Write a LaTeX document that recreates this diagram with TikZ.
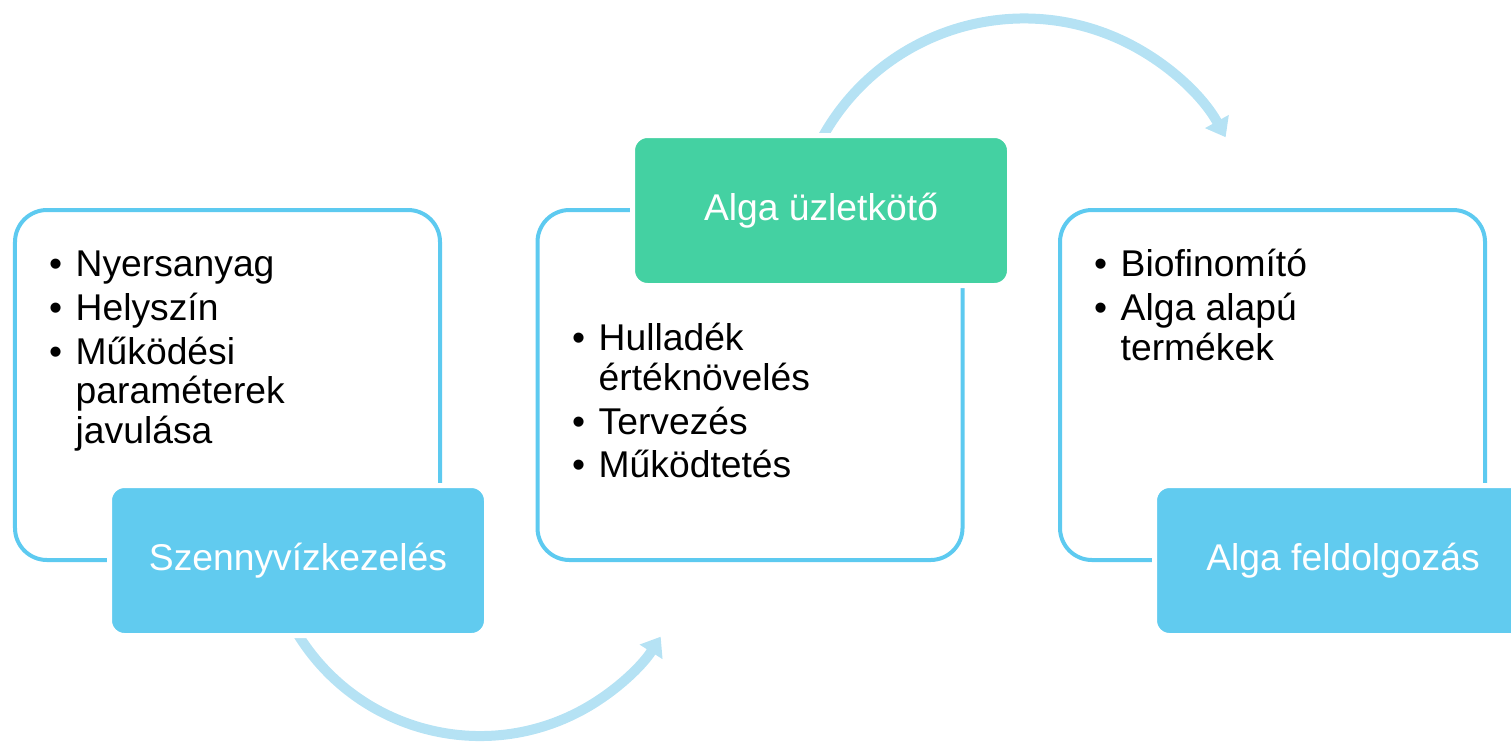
\documentclass[tikz,border=0pt]{standalone}
\usepackage{fontspec}
\setmainfont{Liberation Sans}
\usetikzlibrary{arrows.meta}
\definecolor{skyline}{HTML}{5DCAF0}
\definecolor{skyfill}{HTML}{61CBEF}
\definecolor{mintfill}{HTML}{44D1A2}
\definecolor{palearrow}{HTML}{B5E2F4}
\newcommand{\bul}{\makebox[0.265cm][l]{\textbullet}}
\newcommand{\cont}{\hspace*{0.265cm}}

\begin{document}
\begin{tikzpicture}[font=\fontsize{10.6}{11.38}\selectfont,
  panel/.style={draw=skyline,line width=0.04cm,rounded corners=0.32cm,
    minimum width=4.25cm,minimum height=3.5cm,inner sep=0},
  tag/.style={draw=white,line width=0.05cm,rounded corners=0.15cm,text=white,
    minimum width=3.77cm,minimum height=1.5cm,inner sep=0},
  items/.style={anchor=base west,inner sep=0},
  flow/.style={palearrow,line width=0.1cm,-{Triangle[width=2.6mm,length=1.8mm]}}]
\useasboundingbox (0,0) rectangle (15.11,7.41);
% curved arrows
\coordinate (lowhub) at (4.80,2.19);
\coordinate (highhub) at (10.24,4.92);
\draw[flow] ([shift={(210:2.14)}]lowhub) arc[start angle=210,end angle=327.6,radius=2.14];
\draw[flow] ([shift={(155:2.305)}]highhub) arc[start angle=155,end angle=29,radius=2.305];
% frames
\node[panel] (frame1) at (2.275,3.56) {};
\node[panel] (frame2) at (7.50,3.56) {};
\node[panel] (frame3) at (12.725,3.56) {};
% bullet lists
\node[items] (list1) at (0.485,4.65) {\begin{tabular}[t]{@{}l@{}}
  \bul Nyersanyag\\[0.04cm]
  \bul Helyszín\\[0.04cm]
  \bul Működési\\
  \cont paraméterek\\
  \cont javulása
\end{tabular}};
\node[items] (list2) at (5.715,3.91) {\begin{tabular}[t]{@{}l@{}}
  \bul Hulladék\\
  \cont értéknövelés\\[0.04cm]
  \bul Tervezés\\[0.04cm]
  \bul Működtetés
\end{tabular}};
\node[items] (list3) at (10.935,4.65) {\begin{tabular}[t]{@{}l@{}}
  \bul Biofinomító\\[0.04cm]
  \bul Alga alapú\\
  \cont termékek
\end{tabular}};
% labels
\node[tag,fill=skyfill] (tag1) at (2.98,1.805) {Szennyvízkezelés};
\node[tag,fill=mintfill] (tag2) at (8.21,5.305) {Alga üzletkötő};
\node[tag,fill=skyfill] (tag3) at (13.43,1.805) {Alga feldolgozás};
\end{tikzpicture}
\end{document}
